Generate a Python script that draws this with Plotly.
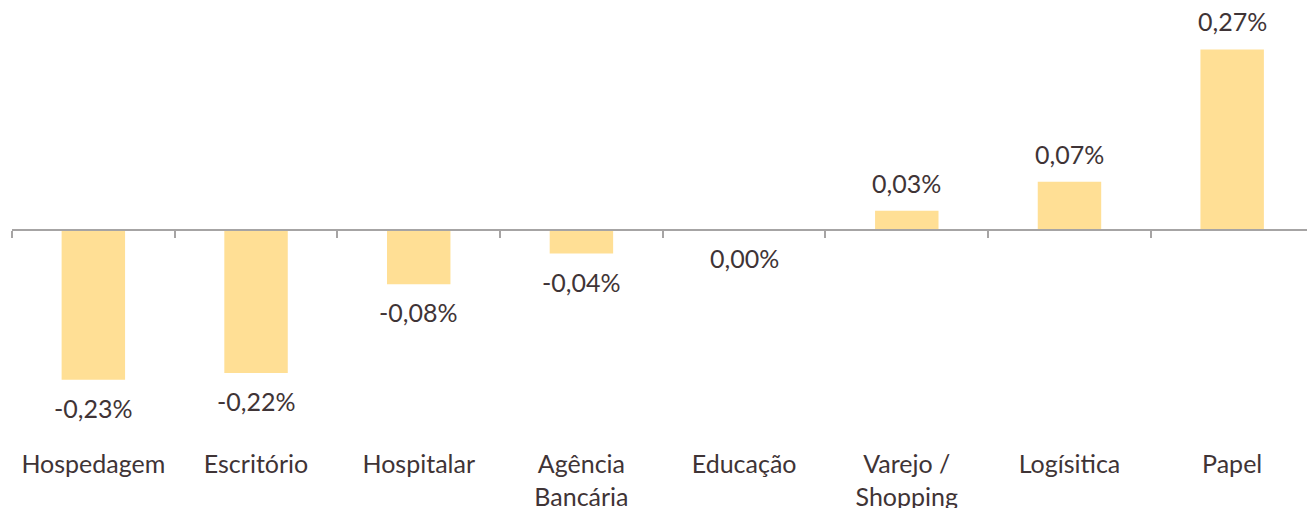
import plotly.graph_objects as go

categories = ["Hospedagem", "Escritório", "Hospitalar", "Agência<br>Bancária",
              "Educação", "Varejo /<br>Shopping", "Logísitica", "Papel"]
values = [-0.2265, -0.216, -0.0817, -0.035, 0.0, 0.030, 0.074, 0.2745]
labels = [f"{round(v, 2) + 0.0:.2f}%".replace(".", ",") for v in values]

BAR = "#FFDF95"
TXT = "#3F3436"
AXC = "#A6A4A4"
FONT = "Lato"
FS = 25

x = list(range(len(categories)))
ymin, ymax = -0.32829, 0.34947

fig = go.Figure()
fig.add_trace(go.Bar(
    x=x, y=values, marker=dict(color=BAR, line=dict(width=0)),
    width=0.39, hoverinfo="skip",
))
# invisible helper trace so the zero axis (x2) is drawn
fig.add_trace(go.Scatter(x=[0], y=[0], xaxis="x2", yaxis="y", mode="markers",
                         marker=dict(opacity=0), hoverinfo="skip", showlegend=False))

annotations = []
for xi, v, lab in zip(x, values, labels):
    annotations.append(dict(
        x=xi, y=v, xref="x", yref="y", text=lab, showarrow=False,
        yanchor="middle", xanchor="center",
        yshift=28 if v > 0 else -28,
        font=dict(family=FONT, size=FS, color=TXT),
    ))

fig.update_layout(
    width=1307, height=508,
    margin=dict(l=12, r=0, t=0, b=61, autoexpand=False),
    paper_bgcolor="white", plot_bgcolor="white",
    showlegend=False,
    font=dict(family=FONT, size=FS, color=TXT),
    annotations=annotations,
    xaxis=dict(range=[-0.5, 7.46], tickvals=x, ticktext=categories,
               showgrid=False, zeroline=False, showline=False, ticks="",
               automargin=False,
               tickfont=dict(family=FONT, size=FS, color=TXT)),
    xaxis2=dict(range=[-0.5, 7.46], overlaying="x", anchor="free",
                position=(0 - ymin) / (ymax - ymin), automargin=False,
                tickvals=[i - 0.5 for i in range(len(categories) + 1)],
                showticklabels=False, ticks="outside", ticklen=7,
                tickwidth=2, tickcolor=AXC, showline=True, linecolor=AXC,
                linewidth=2, showgrid=False, zeroline=False),
    yaxis=dict(range=[ymin, ymax], visible=False, showgrid=False,
               zeroline=False, automargin=False),
)

fig.write_html("out.html", config={"displayModeBar": False},
               post_script="document.body.style.margin='0';")
